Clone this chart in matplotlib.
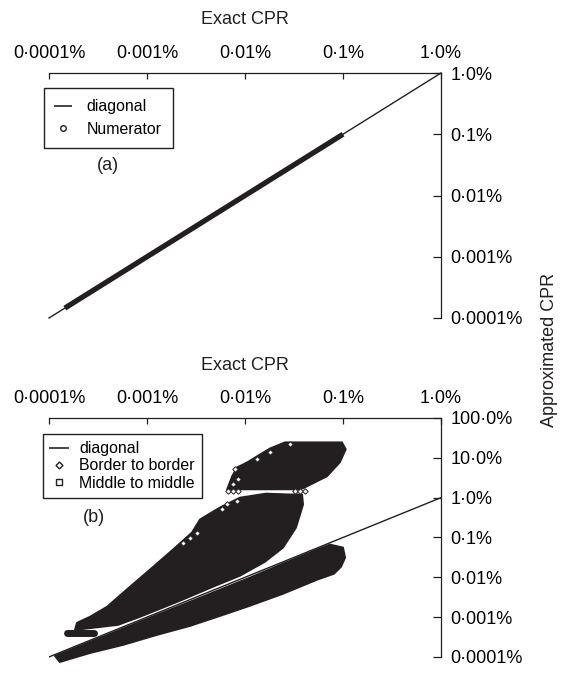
import matplotlib
matplotlib.use('Agg')
import matplotlib.pyplot as plt
from matplotlib.lines import Line2D

plt.rcParams['font.family'] = ['Liberation Sans', 'DejaVu Sans']

INK = '#231f20'

# ---- axis ticks (values in %) ----
decade_ticks = [1e-4, 1e-3, 1e-2, 1e-1, 1.0]
x_tick_labels = ['0·0001%', '0·001%', '0·01%', '0·1%', '1·0%']
y_ticks_a = [1e-4, 1e-3, 1e-2, 1e-1, 1.0]
y_tick_labels_a = ['0·0001%', '0·001%', '0·01%', '0·1%', '1·0%']
y_ticks_b = [1e-4, 1e-3, 1e-2, 1e-1, 1.0, 10.0, 100.0]
y_tick_labels_b = ['0·0001%', '0·001%', '0·01%', '0·1%', '1·0%', '10·0%', '100·0%']

# ---- diagonal ----
diag_x = [1e-4, 1.0]
diag_y = [1e-4, 1.0]

# ---- (a) numerator approximation: sits on the diagonal ----
numer_x = [1.45e-4, 0.1]
numer_y = [1.45e-4, 0.1]

# ---- (b) border to border: outline of the main cloud (lower part) ----
b2b_low_x = [1.84e-4, 5.06e-4, 8.48e-4, 2.17e-3, 4.71e-3, 8.89e-3, 1.60e-2, 2.44e-2,
             3.31e-2, 3.91e-2, 3.82e-2, 2.88e-2, 1.64e-2, 8.89e-3, 5.56e-3, 3.47e-3,
             2.88e-3, 1.84e-3, 1.07e-3, 6.71e-4, 3.91e-4, 2.62e-4, 1.93e-4]
b2b_low_y = [4.79e-4, 6.40e-4, 1.02e-3, 2.58e-3, 5.80e-3, 1.10e-2, 2.47e-2, 5.57e-2,
             0.177, 0.674, 1.20, 1.20, 1.26, 1.00, 0.566, 0.282,
             0.133, 4.96e-2, 1.55e-2, 5.80e-3, 1.82e-3, 1.02e-3, 7.18e-4]

# border to border: capped cloud above the gap
b2b_top_x = [6.55e-3, 7.37e-3, 8.28e-3, 1.05e-2, 1.32e-2, 1.80e-2, 2.56e-2, 9.77e-2,
             0.107, 9.31e-2, 6.87e-2, 4.94e-2, 3.91e-2, 3.39e-2]
b2b_top_y = [1.61, 3.42, 5.77, 7.71, 10.9, 17.3, 24.6, 24.6,
             16.4, 7.71, 3.42, 2.28, 1.71, 1.61]

# border to border: small cluster at the lower left
b2b_pill_x = [1.51e-4, 2.91e-4]
b2b_pill_y = [3.9e-4, 3.9e-4]

# border to border: isolated outline points along the gap and the edges
b2b_row_x = [6.71e-3, 7.54e-3, 8.49e-3, 3.24e-2, 3.64e-2, 4.09e-2]
b2b_row_y = [1.43, 1.43, 1.43, 1.43, 1.43, 1.43]
b2b_edge_x = [7.91e-3, 8.49e-3, 7.54e-3, 1.32e-2, 1.80e-2, 2.88e-2,
              2.33e-3, 2.75e-3, 3.24e-3, 5.82e-3, 6.55e-3, 8.28e-3]
b2b_edge_y = [5.13, 2.87, 2.15, 9.17, 13.8, 21.9,
              7.44e-2, 9.94e-2, 0.133, 0.505, 0.674, 0.802]

# ---- (b) middle to middle: outline of the cloud just under the diagonal ----
m2m_x = [1.29e-4, 2.62e-4, 5.69e-4, 1.26e-3, 2.75e-3, 5.97e-3, 1.12e-2, 2.44e-2,
         5.43e-2, 8.09e-2, 9.55e-2, 0.105, 0.100, 7.36e-2, 5.43e-2, 2.44e-2,
         1.12e-2, 2.75e-3, 1.26e-3, 5.30e-4, 2.62e-4, 1.64e-4, 1.15e-4]
m2m_y = [7.48e-5, 1.26e-4, 2.01e-4, 3.58e-4, 6.04e-4, 1.14e-3, 1.93e-3, 3.86e-3,
         8.71e-3, 1.23e-2, 1.85e-2, 3.12e-2, 5.57e-2, 6.62e-2, 4.96e-2, 2.20e-2,
         9.77e-3, 2.43e-3, 1.14e-3, 4.79e-4, 2.39e-4, 1.50e-4, 1.06e-4]


# ========================
# FIGURE LAYOUT (pixels)
# ========================
W, H = 567, 673
fig = plt.figure(figsize=(W / 100, H / 100), dpi=100)


def fx(px):
    return px / W


def fy(py):
    return 1 - py / H


ax_a = fig.add_axes([fx(49), fy(318), (441 - 49) / W, (318 - 73) / H])
ax_b = fig.add_axes([fx(49), fy(665.8), (441 - 49) / W, (665.8 - 418) / H])


def style_axes(ax, yticks, ylabels, ylim):
    ax.set_xscale('log')
    ax.set_yscale('log')
    ax.set_xlim(1e-4, 1.0)
    ax.set_ylim(*ylim)
    ax.xaxis.tick_top()
    ax.yaxis.tick_right()
    ax.set_xticks(decade_ticks, x_tick_labels)
    ax.set_yticks(yticks, ylabels)
    ax.minorticks_off()
    ax.spines['left'].set_visible(False)
    ax.spines['bottom'].set_visible(False)
    ax.spines['right'].set_bounds(yticks[0], yticks[-1])
    for s in ['top', 'right']:
        ax.spines[s].set_color(INK)
        ax.spines[s].set_linewidth(0.9)
    ax.tick_params(axis='x', direction='in', length=4, width=0.9, color=INK,
                   pad=8, labelsize=13)
    ax.tick_params(axis='y', direction='in', length=6, width=0.9, color=INK,
                   pad=7, labelsize=13)
    ax.patch.set_visible(False)


style_axes(ax_a, y_ticks_a, y_tick_labels_a, (1e-4, 1.0))
style_axes(ax_b, y_ticks_b, y_tick_labels_b, (6e-5, 100.0))

# ---- panel (a) ----
ax_a.plot(numer_x, numer_y, color=INK, lw=3.8, solid_capstyle='butt', clip_on=False)
ax_a.plot(diag_x, diag_y, color=INK, lw=1.0, clip_on=False)

leg_a = [Line2D([], [], color='#444444', lw=1.4, label='diagonal'),
         Line2D([], [], ls='none', marker='o', ms=4, mfc='white', mec=INK, mew=1.0,
                label='Numerator')]
ax_a.legend(handles=leg_a, loc='upper left', bbox_to_anchor=(fx(44), fy(88)),
            bbox_transform=fig.transFigure, borderaxespad=0, fontsize=11.4,
            frameon=True, fancybox=False, edgecolor=INK, framealpha=1,
            borderpad=0.7, labelspacing=0.5, handlelength=1.0, handletextpad=1.0)
fig.text(fx(108), fy(166), '(a)', fontsize=13, ha='center', va='center', color=INK)

# ---- panel (b) ----
ax_b.plot(diag_x, diag_y, color=INK, lw=1.0, zorder=1)
ax_b.fill(m2m_x, m2m_y, color=INK, lw=1.4, joinstyle='round', zorder=2)
ax_b.fill(b2b_low_x, b2b_low_y, color=INK, lw=1.4, joinstyle='round', zorder=2)
ax_b.fill(b2b_top_x, b2b_top_y, color=INK, lw=1.2, joinstyle='round', zorder=2)
ax_b.plot(b2b_pill_x, b2b_pill_y, color=INK, lw=5, solid_capstyle='round', zorder=2)
ax_b.plot(b2b_row_x, b2b_row_y, ls='none', marker='D', ms=2.8, mfc='white', mec=INK,
          mew=0.7, zorder=3)
ax_b.plot(b2b_edge_x, b2b_edge_y, ls='none', marker='D', ms=2.8, mfc='white', mec=INK,
          mew=0.7, zorder=3)

leg_b = [Line2D([], [], color='#444444', lw=1.4, label='diagonal'),
         Line2D([], [], ls='none', marker='D', ms=3.5, mfc='white', mec=INK, mew=1.0,
                label='Border to border'),
         Line2D([], [], ls='none', marker='s', ms=4, mfc='white', mec=INK, mew=1.0,
                label='Middle to middle')]
ax_b.legend(handles=leg_b, loc='upper left', bbox_to_anchor=(fx(43), fy(434)),
            bbox_transform=fig.transFigure, borderaxespad=0, fontsize=11.4,
            frameon=True, fancybox=False, edgecolor=INK, framealpha=1,
            borderpad=0.45, labelspacing=0.15, handlelength=1.1, handletextpad=0.75)
fig.text(fx(94), fy(517), '(b)', fontsize=13, ha='center', va='center', color=INK)

# ---- axis titles ----
fig.text(fx(245), fy(24.5), 'Exact CPR', fontsize=13, ha='center', va='baseline',
         color=INK)
fig.text(fx(245), fy(369.5), 'Exact CPR', fontsize=13, ha='center', va='baseline',
         color=INK)
fig.text(fx(549), fy(350), 'Approximated CPR', fontsize=13, rotation=90,
         ha='center', va='center', color=INK)

fig.savefig('out.png', dpi=100)
